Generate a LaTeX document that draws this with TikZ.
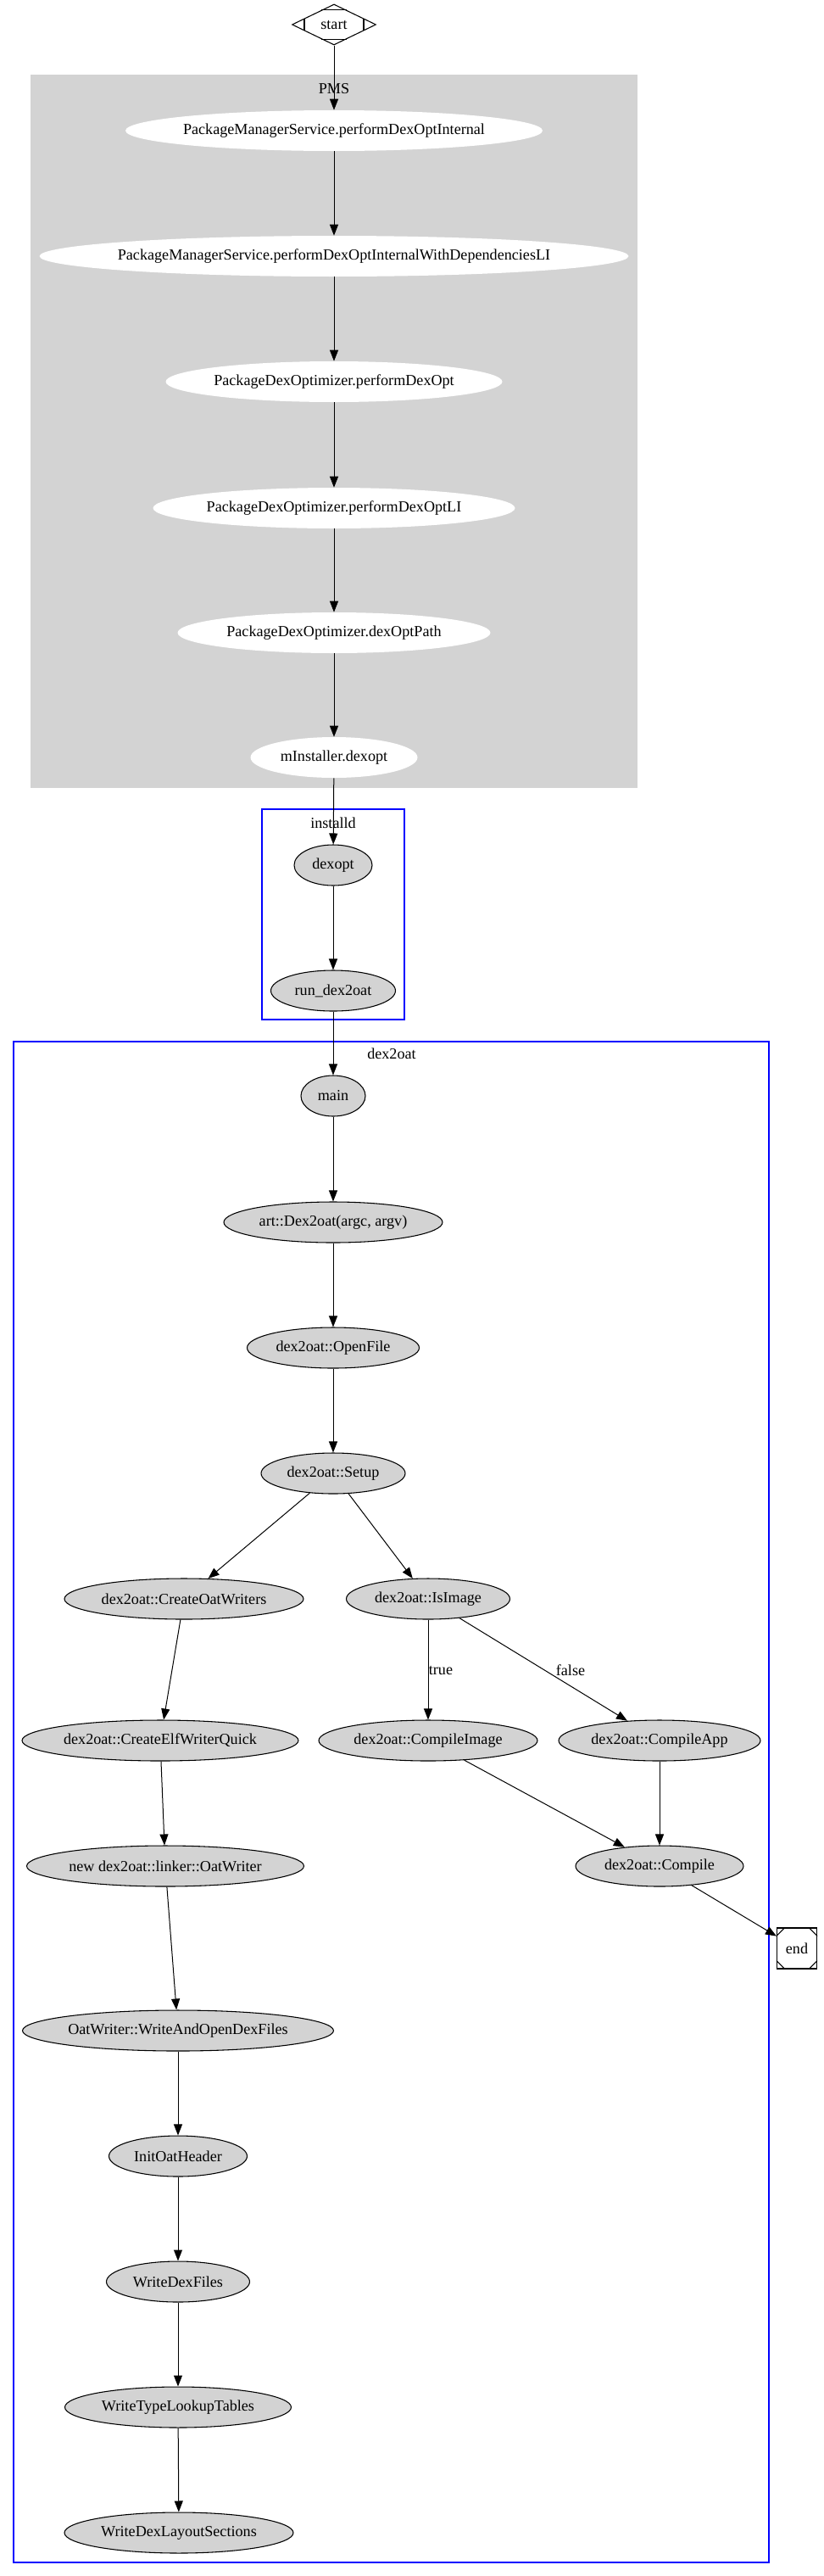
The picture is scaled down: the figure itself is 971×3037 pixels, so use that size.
\documentclass[tikz,border=0pt]{standalone}
\usepackage{fontspec}
\setmainfont{Liberation Serif}
\usetikzlibrary{shapes.geometric,arrows.meta,calc}
\definecolor{lgray}{HTML}{D3D3D3}
\definecolor{cblue}{HTML}{0000FF}
\begin{document}
\begin{tikzpicture}[x=0.75pt,y=-0.75pt,
  font=\fontsize{13.6pt}{16pt}\selectfont,
  pms/.style={ellipse, fill=white, inner sep=0pt, minimum height=36pt},
  gnode/.style={ellipse, draw=black, fill=lgray, line width=0.8pt, inner sep=0pt, minimum height=36pt},
  nw/.style={minimum width=#1*0.75pt},
  txt/.style={label={[inner sep=0pt]center:{#1}}},
  edge/.style={-{Triangle[length=9.75pt,width=7.5pt]}, line width=0.75pt},
  clusterbox/.style={draw=cblue, line width=0.9pt},
  lbl/.style={inner sep=0pt}
]
\useasboundingbox[fill=white] (0,0) rectangle (971,3037);

% clusters
\fill[lgray] (36,88) rectangle (752,929);
\node[lbl] (pmslabel) at (394,105) {PMS};
\draw[clusterbox] (309,954) rectangle (477,1202);
\node[lbl] (installdlabel) at (393,970) {installd};
\draw[clusterbox] (16,1228) rectangle (907,3021);
\node[lbl] (dexlabel) at (462,1242) {dex2oat};

% start (Mdiamond)
\node[diamond, draw=black, line width=0.8pt, inner sep=0pt, minimum width=99*0.75pt, minimum height=48*0.75pt, txt=start] (start) at (394,29) {};
\draw[line width=0.8pt] ($(start.west)!0.3!(start.north)$) -- ($(start.west)!0.3!(start.south)$);
\draw[line width=0.8pt] ($(start.east)!0.3!(start.north)$) -- ($(start.east)!0.3!(start.south)$);
\draw[line width=0.8pt] ($(start.north)!0.3!(start.west)$) -- ($(start.north)!0.3!(start.east)$);
\draw[line width=0.8pt] ($(start.south)!0.3!(start.west)$) -- ($(start.south)!0.3!(start.east)$);

% PMS nodes
\node[pms, nw=492, txt={PackageManagerService.performDexOptInternal}] (p1) at (394,154) {};
\node[pms, nw=695, txt={PackageManagerService.performDexOptInternalWithDependenciesLI}] (p2) at (394,302) {};
\node[pms, nw=397, txt={PackageDexOptimizer.performDexOpt}] (p3) at (394,450) {};
\node[pms, nw=427, txt={PackageDexOptimizer.performDexOptLI}] (p4) at (394,599) {};
\node[pms, nw=369, txt={PackageDexOptimizer.dexOptPath}] (p5) at (394,746) {};
\node[pms, nw=197, txt={mInstaller.dexopt}] (p6) at (394,893) {};

% installd
\node[gnode, nw=92, txt={dexopt}] (dexopt) at (393,1020) {};
\node[gnode, nw=147, txt={run\_dex2oat}] (rundex) at (393,1168) {};

% dex2oat
\node[gnode, nw=76, txt={main}] (main) at (393,1292) {};
\node[gnode, nw=258, txt={art::Dex2oat(argc, argv)}] (art) at (393,1441) {};
\node[gnode, nw=203, txt={dex2oat::OpenFile}] (openfile) at (393,1589) {};
\node[gnode, nw=170, txt={dex2oat::Setup}] (setup) at (393,1737) {};
\node[gnode, nw=282, txt={dex2oat::CreateOatWriters}] (cow) at (217,1885) {};
\node[gnode, nw=193, txt={dex2oat::IsImage}] (isimage) at (505,1885) {};
\node[gnode, nw=326, txt={dex2oat::CreateElfWriterQuick}] (elf) at (189,2052) {};
\node[gnode, nw=258, txt={dex2oat::CompileImage}] (cimg) at (505,2052) {};
\node[gnode, nw=238, txt={dex2oat::CompileApp}] (capp) at (778,2052) {};
\node[gnode, nw=327, txt={new dex2oat::linker::OatWriter}] (oatw) at (195,2200) {};
\node[gnode, nw=198, txt={dex2oat::Compile}] (compile) at (778,2200) {};
\node[gnode, nw=367, txt={OatWriter::WriteAndOpenDexFiles}] (wao) at (210,2394) {};
\node[gnode, nw=163, txt={InitOatHeader}] (ioh) at (210,2542) {};
\node[gnode, nw=169, txt={WriteDexFiles}] (wdf) at (210,2690) {};
\node[gnode, nw=267, txt={WriteTypeLookupTables}] (wtl) at (210,2838) {};
\node[gnode, nw=270, txt={WriteDexLayoutSections}] (wdl) at (211,2986) {};

% end (Msquare)
\node[rectangle, draw=black, line width=0.8pt, inner sep=0pt, minimum width=47*0.75pt, minimum height=48*0.75pt, txt=end] (end) at (940,2297) {};
\draw[line width=0.8pt] ($(end.north west)+(0,10)$) -- ($(end.north west)+(10,0)$);
\draw[line width=0.8pt] ($(end.north east)+(0,10)$) -- ($(end.north east)+(-10,0)$);
\draw[line width=0.8pt] ($(end.south west)+(0,-10)$) -- ($(end.south west)+(10,0)$);
\draw[line width=0.8pt] ($(end.south east)+(0,-10)$) -- ($(end.south east)+(-10,0)$);

% edges
\draw[edge] (start) -- (p1);
\draw[edge] (p1) -- (p2);
\draw[edge] (p2) -- (p3);
\draw[edge] (p3) -- (p4);
\draw[edge] (p4) -- (p5);
\draw[edge] (p5) -- (p6);
\draw[edge] (p6) -- (dexopt);
\draw[edge] (dexopt) -- (rundex);
\draw[edge] (rundex) -- (main);
\draw[edge] (main) -- (art);
\draw[edge] (art) -- (openfile);
\draw[edge] (openfile) -- (setup);
\draw[edge] (setup) -- (cow);
\draw[edge] (setup) -- (isimage);
\draw[edge] (cow) -- (elf);
\draw[edge] (elf) -- (oatw);
\draw[edge] (oatw) -- (wao);
\draw[edge] (wao) -- (ioh);
\draw[edge] (ioh) -- (wdf);
\draw[edge] (wdf) -- (wtl);
\draw[edge] (wtl) -- (wdl);
\draw[edge] (isimage) -- (cimg);
\draw[edge] (isimage) -- (capp);
\draw[edge] (cimg) -- (compile);
\draw[edge] (capp) -- (compile);
\draw[edge] (compile) -- (end);

% edge labels
\node[lbl] (truelbl) at (520,1969) {true};
\node[lbl] (falselbl) at (673,1969) {false};
\end{tikzpicture}
\end{document}
